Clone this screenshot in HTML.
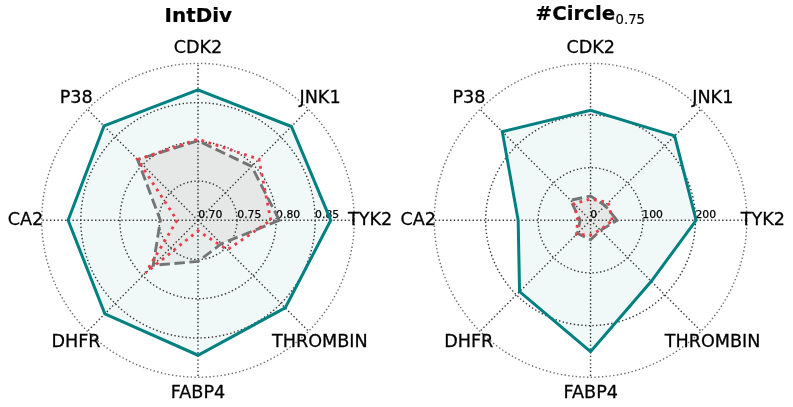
<!DOCTYPE html>
<html><head><meta charset="utf-8"><title>Radar</title>
<style>html,body{margin:0;padding:0;background:#fff;}svg{display:block;}</style>
</head><body>
<svg width="793" height="407" viewBox="0 0 793 407">
<rect width="793" height="407" fill="#fff"/>
<g>
<polygon points="330.80,220.30 291.41,126.52 198.00,89.78 104.03,125.95 68.10,220.30 104.87,313.80 198.00,355.24 285.19,307.84" fill="#008080" fill-opacity="0.055" stroke="none"/>
<polygon points="279.30,220.30 251.67,166.42 198.00,140.68 137.54,159.60 160.40,220.30 153.17,265.31 198.00,261.46 221.33,243.73" fill="#808080" fill-opacity="0.085" stroke="none"/>
<polygon points="270.80,220.30 258.88,159.17 198.00,139.18 137.54,159.60 177.00,220.30 145.53,272.98 198.00,230.84 227.34,249.76" fill="#e73e4b" fill-opacity="0.03" stroke="none"/>
<g fill="none" stroke="#3a3a3a" stroke-width="1.42" stroke-dasharray="1.42 2.34">
<line x1="198.00" y1="220.30" x2="198.00" y2="63.37"/>
<line x1="198.00" y1="220.30" x2="308.52" y2="109.34"/>
<line x1="198.00" y1="220.30" x2="354.30" y2="220.30"/>
<line x1="198.00" y1="220.30" x2="308.52" y2="331.26"/>
<line x1="198.00" y1="220.30" x2="198.00" y2="377.23"/>
<line x1="198.00" y1="220.30" x2="87.48" y2="331.26"/>
<line x1="198.00" y1="220.30" x2="41.70" y2="220.30"/>
<line x1="198.00" y1="220.30" x2="87.48" y2="109.34"/>
<ellipse cx="198.00" cy="220.30" rx="39.07" ry="39.23"/>
<ellipse cx="198.00" cy="220.30" rx="78.15" ry="78.46"/>
<ellipse cx="198.00" cy="220.30" rx="117.20" ry="117.67"/>
</g>
<g font-family="'DejaVu Sans', 'Liberation Sans', sans-serif" fill="#000" stroke="#000" stroke-width="0.25">
<text x="198.30" y="218.30" font-size="10.800" text-anchor="start" font-weight="normal">0.70</text>
<text x="237.30" y="218.30" font-size="10.800" text-anchor="start" font-weight="normal">0.75</text>
<text x="276.10" y="218.30" font-size="10.800" text-anchor="start" font-weight="normal">0.80</text>
<text x="315.10" y="218.30" font-size="10.800" text-anchor="start" font-weight="normal">0.85</text>
</g>
<polygon points="330.80,220.30 291.41,126.52 198.00,89.78 104.03,125.95 68.10,220.30 104.87,313.80 198.00,355.24 285.19,307.84" fill="none" stroke="#008080" stroke-width="3.0" stroke-linejoin="miter"/>
<polygon points="279.30,220.30 251.67,166.42 198.00,140.68 137.54,159.60 160.40,220.30 153.17,265.31 198.00,261.46 221.33,243.73" fill="none" stroke="#747474" stroke-width="2.83" stroke-dasharray="10.48 4.53" stroke-linejoin="miter"/>
<polygon points="270.80,220.30 258.88,159.17 198.00,139.18 137.54,159.60 177.00,220.30 145.53,272.98 198.00,230.84 227.34,249.76" fill="none" stroke="#e73e4b" stroke-width="2.83" stroke-dasharray="2.83 4.67" stroke-linejoin="miter"/>
<ellipse cx="198.00" cy="220.30" rx="156.30" ry="156.93" fill="none" stroke="#707070" stroke-width="1.42" stroke-dasharray="1.42 2.34"/>
</g>
<g>
<polygon points="696.15,220.30 674.62,135.89 590.55,110.26 502.30,131.70 518.15,220.30 519.56,291.58 590.55,351.62 651.29,281.28" fill="#008080" fill-opacity="0.055" stroke="none"/>
<polygon points="617.05,220.30 605.12,205.68 590.55,195.90 570.61,200.28 580.15,220.30 577.54,233.36 590.55,239.68 600.59,230.38" fill="#808080" fill-opacity="0.085" stroke="none"/>
<polygon points="612.35,220.30 608.23,202.55 590.55,199.02 574.07,203.76 577.75,220.30 576.41,234.50 590.55,234.96 600.24,230.03" fill="#e73e4b" fill-opacity="0.03" stroke="none"/>
<g fill="none" stroke="#3a3a3a" stroke-width="1.42" stroke-dasharray="1.42 2.34">
<line x1="590.55" y1="220.30" x2="590.55" y2="63.37"/>
<line x1="590.55" y1="220.30" x2="701.07" y2="109.34"/>
<line x1="590.55" y1="220.30" x2="746.85" y2="220.30"/>
<line x1="590.55" y1="220.30" x2="701.07" y2="331.26"/>
<line x1="590.55" y1="220.30" x2="590.55" y2="377.23"/>
<line x1="590.55" y1="220.30" x2="480.03" y2="331.26"/>
<line x1="590.55" y1="220.30" x2="434.25" y2="220.30"/>
<line x1="590.55" y1="220.30" x2="480.03" y2="109.34"/>
<ellipse cx="590.55" cy="220.30" rx="52.40" ry="52.61"/>
<ellipse cx="590.55" cy="220.30" rx="104.90" ry="105.32"/>
</g>
<g font-family="'DejaVu Sans', 'Liberation Sans', sans-serif" fill="#000" stroke="#000" stroke-width="0.25">
<text x="590.30" y="218.30" font-size="10.800" text-anchor="start" font-weight="normal">0</text>
<text x="642.30" y="218.30" font-size="10.800" text-anchor="start" font-weight="normal">100</text>
<text x="695.40" y="218.30" font-size="10.800" text-anchor="start" font-weight="normal">200</text>
</g>
<polygon points="696.15,220.30 674.62,135.89 590.55,110.26 502.30,131.70 518.15,220.30 519.56,291.58 590.55,351.62 651.29,281.28" fill="none" stroke="#008080" stroke-width="3.0" stroke-linejoin="miter"/>
<polygon points="617.05,220.30 605.12,205.68 590.55,195.90 570.61,200.28 580.15,220.30 577.54,233.36 590.55,239.68 600.59,230.38" fill="none" stroke="#747474" stroke-width="2.83" stroke-dasharray="10.48 4.53" stroke-linejoin="miter"/>
<polygon points="612.35,220.30 608.23,202.55 590.55,199.02 574.07,203.76 577.75,220.30 576.41,234.50 590.55,234.96 600.24,230.03" fill="none" stroke="#e73e4b" stroke-width="2.83" stroke-dasharray="2.83 4.67" stroke-linejoin="miter"/>
<ellipse cx="590.55" cy="220.30" rx="156.30" ry="156.93" fill="none" stroke="#707070" stroke-width="1.42" stroke-dasharray="1.42 2.34"/>
</g>
<g font-family="'DejaVu Sans', 'Liberation Sans', sans-serif" fill="#000" stroke="#000" stroke-width="0.28">
<text x="198.00" y="52.70" font-size="17.600" text-anchor="middle" font-weight="normal">CDK2</text>
<text x="299.50" y="103.00" font-size="17.600" text-anchor="start" font-weight="normal">JNK1</text>
<text x="348.00" y="225.20" font-size="17.600" text-anchor="start" font-weight="normal">TYK2</text>
<text x="272.00" y="347.00" font-size="17.600" text-anchor="start" font-weight="normal">THROMBIN</text>
<text x="198.00" y="398.10" font-size="17.600" text-anchor="middle" font-weight="normal">FABP4</text>
<text x="100.50" y="347.00" font-size="17.600" text-anchor="end" font-weight="normal">DHFR</text>
<text x="43.20" y="225.30" font-size="17.600" text-anchor="end" font-weight="normal">CA2</text>
<text x="92.70" y="103.00" font-size="17.600" text-anchor="end" font-weight="normal">P38</text>
<text x="590.75" y="52.70" font-size="17.600" text-anchor="middle" font-weight="normal">CDK2</text>
<text x="692.25" y="103.00" font-size="17.600" text-anchor="start" font-weight="normal">JNK1</text>
<text x="740.75" y="225.20" font-size="17.600" text-anchor="start" font-weight="normal">TYK2</text>
<text x="664.75" y="347.00" font-size="17.600" text-anchor="start" font-weight="normal">THROMBIN</text>
<text x="590.75" y="398.10" font-size="17.600" text-anchor="middle" font-weight="normal">FABP4</text>
<text x="493.25" y="347.00" font-size="17.600" text-anchor="end" font-weight="normal">DHFR</text>
<text x="435.95" y="225.30" font-size="17.600" text-anchor="end" font-weight="normal">CA2</text>
<text x="485.45" y="103.00" font-size="17.600" text-anchor="end" font-weight="normal">P38</text>
<text x="198.30" y="21.50" font-size="19.900" text-anchor="middle" font-weight="bold" stroke-width="0.2">IntDiv</text>
<text x="535.6" y="20.1" font-size="19.8" font-weight="bold" stroke-width="0.2">#Circle<tspan font-size="13.2" font-weight="normal" stroke-width="0.2" dx="0.4" dy="3.7">0.75</tspan></text>
</g>
</svg>
</body></html>
